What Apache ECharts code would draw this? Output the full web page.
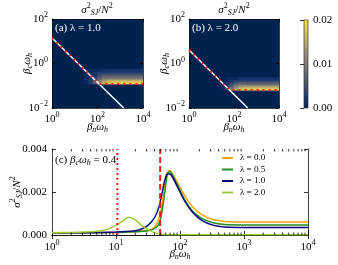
<!DOCTYPE html>
<html><head><meta charset="utf-8">
<script src="https://cdn.jsdelivr.net/npm/echarts@6/dist/echarts.min.js"></script>
<style>html,body{margin:0;padding:0;background:#fff}#c{width:338px;height:265px}</style>
</head><body><div id="c"></div>
<script>
// ---------- DATA ----------
// heatmap bins (log10 edges) and values (x 1e-3), rows bottom -> top
const heatXEdgesExp = [1.4, 1.6, 1.8, 2.0, 2.2, 2.4, 2.6, 4.0];
const heatYEdgesExpA = [-0.95, -0.91, -0.85, -0.79, -0.73, -0.67, -0.60, -0.52, -0.44, -0.35, -0.25];
const heatValsA = [
  [0, 1, 2, 5, 6, 7, 7],
  [1, 3, 7, 13, 16, 18, 19],
  [1, 3, 7, 12, 15, 17, 18],
  [1, 3, 6, 10, 13, 15, 15],
  [1, 2, 5, 8, 11, 12, 12],
  [1, 2, 4, 7, 9, 9, 9],
  [1, 2, 3, 5, 7, 7, 7],
  [1, 1, 2, 4, 5, 5, 5],
  [0, 1, 2, 3, 3, 3, 3],
  [0, 1, 1, 1, 2, 2, 2]
];
const heatYEdgesExpB = [-1.23, -1.19, -1.13, -1.07, -1.01, -0.95, -0.88, -0.80, -0.72, -0.63];
const heatValsB = [
  [0, 1, 3, 5, 7, 7, 7],
  [1, 4, 10, 15, 17, 18, 18],
  [1, 4, 9, 13, 16, 17, 17],
  [1, 3, 7, 11, 13, 14, 14],
  [1, 3, 6, 9, 11, 11, 11],
  [1, 2, 5, 7, 8, 8, 8],
  [0, 2, 3, 5, 6, 6, 6],
  [0, 1, 2, 3, 3, 3, 3],
  [0, 1, 1, 1, 2, 2, 2]
];
const whiteLineA = [[1, 14.1], [1410, 0.01]];
const redLineA = [[1, 14.1], [114, 0.124], [10000, 0.124]];
const whiteLineB = [[1, 4.07], [407, 0.01]];
const redLineB = [[1, 4.07], [63, 0.0646], [10000, 0.0646]];

const seriesNames = ['λ = 0.0', 'λ = 0.5', 'λ = 1.0', 'λ = 2.0'];
const xL0 = [1, 3.16, 10, 20, 31.6, 39.8, 44.7, 50.1, 55, 58.9, 63.1, 67.6, 74.1, 89.1, 120, 158, 219, 316, 501, 1000, 10000];
const yL0 = [0.00010, 0.00011, 0.00013, 0.00016, 0.00022, 0.00035, 0.0006, 0.0011, 0.0018, 0.0025, 0.0029, 0.0030, 0.0029, 0.0025, 0.0018, 0.0013, 0.00095, 0.00073, 0.00063, 0.0006, 0.0006];
const xL05 = [1, 10, 20, 31.6, 39.8, 45.7, 50.1, 55, 60.3, 64.6, 69.2, 75.9, 89.1, 120, 158, 219, 316, 501, 1000, 10000];
const yL05 = [0.0001, 0.00012, 0.00015, 0.0002, 0.0003, 0.00045, 0.0008, 0.0015, 0.0024, 0.0029, 0.00295, 0.0028, 0.0024, 0.0016, 0.0011, 0.00077, 0.00058, 0.00049, 0.00047, 0.00047];
const xL1 = [1, 3.16, 10, 15.8, 20, 25.1, 31.6, 39.8, 45.7, 51.3, 56.2, 61.7, 66.1, 72.4, 89.1, 120, 158, 219, 316, 501, 1000, 10000];
const yL1 = [0.0001, 0.00011, 0.00014, 0.00017, 0.0002, 0.00028, 0.00045, 0.0008, 0.0012, 0.0018, 0.0024, 0.0028, 0.00285, 0.0028, 0.0023, 0.00155, 0.00105, 0.00068, 0.00047, 0.00037, 0.00035, 0.00035];
const xL2 = [1, 2, 3.16, 5.01, 7.08, 10, 12.6, 15.8, 20, 25.1, 31.6, 39.8, 50.1, 63.1, 100, 10000];
const yL2 = [0.0001, 0.00012, 0.00014, 0.00018, 0.00025, 0.00045, 0.00065, 0.00082, 0.0007, 0.00045, 0.00025, 0.0001, 0.00003, 0.00001, 0.00001, 0.00001];
const dottedX = 10.5;
const dashedX = 49;
const minorMultipliers = [2, 3, 4, 5, 6, 7, 8, 9];
const decades = [1, 10, 100, 1000];

// ---------- STYLE ----------
const FONT = 'Liberation Serif';
const BLACK = '#000';
const cividis = ['#00224e', '#123570', '#3b496c', '#575d6d', '#707173', '#8a8678', '#a59c74', '#c3b369', '#e1cc55', '#fee838'];
const lineColors = ['#ffa500', '#228b22', '#0a0a80', '#9acd32'];

const labRich = {
  b: {fontFamily: FONT, fontSize: 11, color: BLACK},
  e: {fontFamily: FONT, fontSize: 8, color: BLACK, padding: [0, 0, 8, 0]}
};
function logLbl(v) {
  const e = Math.round(Math.log10(v));
  return '{b|10}{e|' + (e < 0 ? '\u2212' + (-e) : e) + '}';
}
const nameRich = {
  i: {fontFamily: FONT, fontSize: 11, fontStyle: 'italic', color: BLACK},
  s: {fontFamily: FONT, fontSize: 8, fontStyle: 'italic', color: BLACK, padding: [6, 0, 0, 0]},
  p: {fontFamily: FONT, fontSize: 8, color: BLACK, padding: [0, 0, 8, 0]},
  n: {fontFamily: FONT, fontSize: 11, color: BLACK}
};
const gRich = {
  i: {fontFamily: FONT, fontSize: 11, fontStyle: 'italic', fill: BLACK},
  s: {fontFamily: FONT, fontSize: 8, fontStyle: 'italic', fill: BLACK, padding: [6, 0, 0, 0]},
  p: {fontFamily: FONT, fontSize: 8, fill: BLACK, padding: [0, 0, 8, 0]},
  n: {fontFamily: FONT, fontSize: 11, fill: BLACK}
};
const betaN = '{i|β}{s|n}{i|ω}{s|h}';
const betaC = '{i|β}{s|c}{i|ω}{s|h}';
const sigma = '{i|σ}{p|2}{s|SJ}{n|/}{i|N}{p|2}';

function pairs(xs, ys) { return xs.map((x, i) => [x, ys[i]]); }
function heatCells(xe, ye, vals) {
  const out = [];
  for (let r = 0; r < vals.length; r++)
    for (let c = 0; c < vals[r].length; c++)
      out.push([Math.pow(10, xe[c]), Math.pow(10, ye[r]), vals[r][c] / 1000, Math.pow(10, xe[c + 1]), Math.pow(10, ye[r + 1])]);
  return out;
}
function heatRender(params, api) {
  const p0 = api.coord([api.value(0), api.value(1)]);
  const p1 = api.coord([api.value(3), api.value(4)]);
  return {type: 'rect', shape: {x: p0[0] - 0.3, y: p1[1] - 0.3, width: p1[0] - p0[0] + 0.6, height: p0[1] - p1[1] + 0.6},
    style: {fill: api.visual('color')}};
}
const minorTickVals = [];
decades.forEach(d => minorMultipliers.forEach(m => minorTickVals.push([d * m])));
function minorTickRender(params, api) {
  const b = api.coord([api.value(0), 0]);
  const t = api.coord([api.value(0), 0.004]);
  const st = {stroke: BLACK, lineWidth: 0.8};
  return {type: 'group', children: [
    {type: 'line', shape: {x1: b[0], y1: b[1], x2: b[0], y2: b[1] - 2.5}, style: st},
    {type: 'line', shape: {x1: t[0], y1: t[1], x2: t[0], y2: t[1] + 2.5}, style: st}
  ]};
}
function colorbarRender(params, api) {
  const cs = params.coordSys;
  const stops = cividis.map((c, i) => ({offset: i / (cividis.length - 1), color: c}));
  return {type: 'rect', shape: {x: cs.x, y: cs.y, width: cs.width, height: cs.height},
    style: {fill: new echarts.graphic.LinearGradient(0, 1, 0, 0, stops), stroke: '#333', lineWidth: 0.7}};
}

const tick = {inside: true, length: 3, lineStyle: {color: BLACK, width: 0.8}};
const aLine = {show: true, lineStyle: {color: '#111', width: 0.8}};
function heatX(grid, pos, labels, name) {
  return {type: 'log', logBase: 10, gridIndex: grid, position: pos, min: 1, max: 10000, interval: 2,
    axisLine: aLine, axisTick: tick, splitLine: {show: false},
    axisLabel: {show: labels, formatter: logLbl, rich: labRich, margin: 3},
    name: name ? betaN : '', nameLocation: 'middle', nameGap: 12, nameMoveOverlap: false, nameTextStyle: {rich: nameRich}};
}
function heatY(grid, pos, labels, name, gap) {
  return {type: 'log', logBase: 10, gridIndex: grid, position: pos, min: 0.01, max: 100, interval: 2,
    axisLine: aLine, axisTick: tick, splitLine: {show: false},
    axisLabel: {show: labels, formatter: logLbl, rich: labRich, margin: 4},
    name: name ? betaC : '', nameLocation: 'middle', nameGap: gap || 22, nameMoveOverlap: false, nameTextStyle: {rich: nameRich}};
}
const gridBase = {containLabel: false, outerBoundsMode: 'none'};

const chart = echarts.init(document.getElementById('c'), null, {renderer: 'canvas'});
const option = {
  animation: false,
  backgroundColor: '#fff',
  grid: [
    Object.assign({left: 52, top: 19, width: 91, height: 89, show: true, backgroundColor: '#00224e', borderWidth: 0}, gridBase),
    Object.assign({left: 189, top: 19, width: 90, height: 89, show: true, backgroundColor: '#00224e', borderWidth: 0}, gridBase),
    Object.assign({left: 304, top: 20, width: 4, height: 88}, gridBase),
    Object.assign({left: 52, top: 149, width: 256, height: 86}, gridBase)
  ],
  xAxis: [
    heatX(0, 'bottom', true, true),
    heatX(0, 'top', false, false),
    heatX(1, 'bottom', true, true),
    heatX(1, 'top', false, false),
    {type: 'value', gridIndex: 2, show: false, min: 0, max: 1},
    {type: 'log', logBase: 10, gridIndex: 3, position: 'bottom', min: 1, max: 10000,
      axisLine: aLine, axisTick: {inside: true, length: 4, lineStyle: {color: BLACK, width: 0.8}},
      splitLine: {show: false}, axisLabel: {formatter: logLbl, rich: labRich, margin: 4},
      name: betaN, nameLocation: 'middle', nameGap: 12, nameMoveOverlap: false, nameTextStyle: {rich: nameRich}},
    {type: 'log', logBase: 10, gridIndex: 3, position: 'top', min: 1, max: 10000,
      axisLine: aLine, axisTick: {inside: true, length: 4, lineStyle: {color: BLACK, width: 0.8}},
      splitLine: {show: false}, axisLabel: {show: false}}
  ],
  yAxis: [
    heatY(0, 'left', true, true, 18),
    heatY(0, 'right', false, false),
    heatY(1, 'left', true, true, 18),
    heatY(1, 'right', false, false),
    {type: 'value', gridIndex: 2, position: 'right', min: 0, max: 0.02, interval: 0.01,
      axisLine: {show: false}, axisTick: {inside: true, length: 4, lineStyle: {color: BLACK, width: 0.8}},
      splitLine: {show: false}, z: 10,
      axisLabel: {formatter: v => v.toFixed(2), fontFamily: FONT, fontSize: 11, color: BLACK, margin: 5}},
    {type: 'value', gridIndex: 3, position: 'left', min: 0, max: 0.004, interval: 0.002,
      axisLine: aLine, axisTick: {inside: true, length: 4, lineStyle: {color: BLACK, width: 0.8}},
      splitLine: {show: false},
      axisLabel: {formatter: v => v.toFixed(3), fontFamily: FONT, fontSize: 11, color: BLACK, margin: 5},
      name: sigma, nameLocation: 'middle', nameGap: 27, nameMoveOverlap: false, nameTextStyle: {rich: nameRich}},
    {type: 'value', gridIndex: 3, position: 'right', min: 0, max: 0.004, interval: 0.002,
      axisLine: aLine, axisTick: {inside: true, length: 4, lineStyle: {color: BLACK, width: 0.8}},
      splitLine: {show: false}, axisLabel: {show: false}}
  ],
  visualMap: {
    type: 'continuous', show: false, min: 0, max: 0.02, dimension: 2, seriesIndex: [0, 1],
    inRange: {color: cividis}
  },
  legend: {
    data: seriesNames, orient: 'vertical', align: 'left', left: 222, top: 153, padding: 0, itemGap: 1.5,
    icon: 'rect', itemWidth: 11, itemHeight: 2,
    textStyle: {fontFamily: FONT, fontSize: 9, color: BLACK, lineHeight: 10, padding: [0, 0, 0, 2]}
  },
  graphic: [
    {type: 'text', left: 55, top: 23, z: 50, style: {text: '(a) λ = 1.0', fill: '#fff', font: '11px "Liberation Serif"'}},
    {type: 'text', left: 192, top: 23, z: 50, style: {text: '(b) λ = 2.0', fill: '#fff', font: '11px "Liberation Serif"'}},
    {type: 'text', x: 97, y: 10, z: 50, style: {text: sigma, align: 'center', verticalAlign: 'middle', rich: gRich}},
    {type: 'text', x: 234, y: 10, z: 50, style: {text: sigma, align: 'center', verticalAlign: 'middle', rich: gRich}},
    {type: 'text', x: 55, y: 160, z: 50, style: {text: '{n|(c) }' + betaC + '{n| = 0.4}', verticalAlign: 'middle', rich: gRich}}
  ],
  series: [
    {type: 'custom', xAxisIndex: 0, yAxisIndex: 0, renderItem: heatRender, clip: true,
      encode: {x: [0, 3], y: [1, 4]}, data: heatCells(heatXEdgesExp, heatYEdgesExpA, heatValsA), silent: true},
    {type: 'custom', xAxisIndex: 2, yAxisIndex: 2, renderItem: heatRender, clip: true,
      encode: {x: [0, 3], y: [1, 4]}, data: heatCells(heatXEdgesExp, heatYEdgesExpB, heatValsB), silent: true},
    {type: 'line', xAxisIndex: 0, yAxisIndex: 0, data: whiteLineA, showSymbol: false, lineStyle: {color: '#fff', width: 1.5}, z: 5},
    {type: 'line', xAxisIndex: 0, yAxisIndex: 0, data: redLineA, showSymbol: false, lineStyle: {color: '#ff1a1a', width: 2, type: [2, 4]}, z: 6},
    {type: 'line', xAxisIndex: 2, yAxisIndex: 2, data: whiteLineB, showSymbol: false, lineStyle: {color: '#fff', width: 1.5}, z: 5},
    {type: 'line', xAxisIndex: 2, yAxisIndex: 2, data: redLineB, showSymbol: false, lineStyle: {color: '#ff1a1a', width: 2, type: [2, 4]}, z: 6},
    {type: 'line', name: seriesNames[0], xAxisIndex: 5, yAxisIndex: 5, data: pairs(xL0, yL0), smooth: 0.35, showSymbol: false, color: lineColors[0], lineStyle: {width: 1.5}},
    {type: 'line', name: seriesNames[1], xAxisIndex: 5, yAxisIndex: 5, data: pairs(xL05, yL05), smooth: 0.35, showSymbol: false, color: lineColors[1], lineStyle: {width: 1.5}},
    {type: 'line', name: seriesNames[2], xAxisIndex: 5, yAxisIndex: 5, data: pairs(xL1, yL1), smooth: 0.35, showSymbol: false, color: lineColors[2], lineStyle: {width: 1.5}},
    {type: 'line', name: seriesNames[3], xAxisIndex: 5, yAxisIndex: 5, data: pairs(xL2, yL2), smooth: 0.35, showSymbol: false, color: lineColors[3], lineStyle: {width: 1.5}},
    {type: 'line', xAxisIndex: 5, yAxisIndex: 5, data: [[dottedX, 0], [dottedX, 0.004]], showSymbol: false, lineStyle: {color: '#ff1a1a', width: 2, type: [2, 3]}, z: 8},
    {type: 'line', xAxisIndex: 5, yAxisIndex: 5, data: [[dashedX, 0], [dashedX, 0.004]], showSymbol: false, lineStyle: {color: '#ff1a1a', width: 2, type: [6, 3]}, z: 8},
    {type: 'custom', xAxisIndex: 5, yAxisIndex: 5, renderItem: minorTickRender, data: minorTickVals, clip: false, silent: true, z: 9},
    {type: 'custom', xAxisIndex: 4, yAxisIndex: 4, renderItem: colorbarRender, data: [[0.5]], silent: true, z: 1}
  ]
};
chart.setOption(option);
</script>
</body></html>
